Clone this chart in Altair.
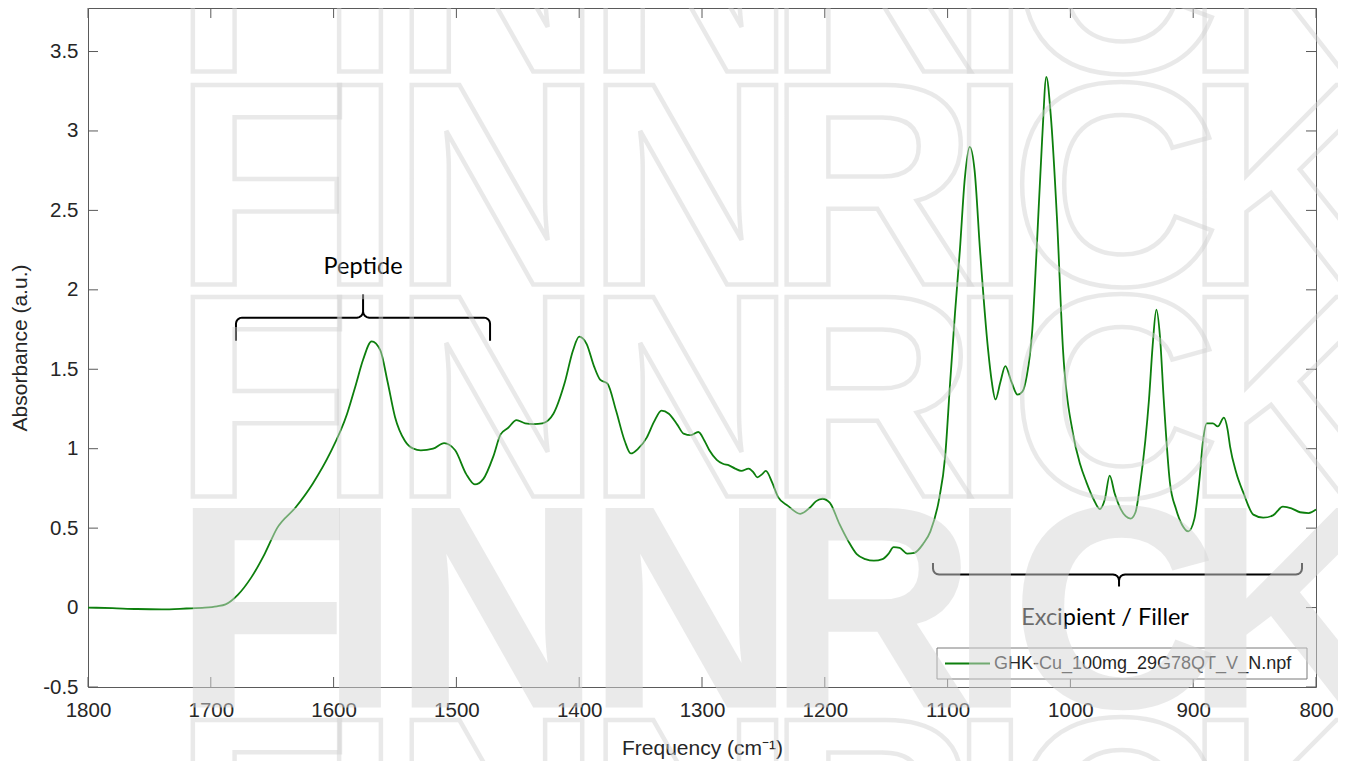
import math
import altair as alt
import pandas as pd

# ---------------- data ----------------
freq = [1800, 1780, 1760, 1740, 1720, 1705, 1695, 1688, 1678, 1667, 1656, 1646, 1631, 1617,
        1603, 1589, 1582, 1576, 1569, 1562, 1556, 1550, 1542, 1535, 1529, 1519, 1510, 1501,
        1492, 1485, 1478, 1470, 1464, 1458, 1451, 1444, 1437, 1430, 1421, 1412, 1405, 1400,
        1394, 1388, 1383, 1377, 1370, 1363, 1358, 1352, 1345, 1339, 1333, 1327, 1320, 1315,
        1309, 1303, 1298, 1294, 1288, 1283, 1278, 1273, 1268, 1262, 1258, 1255, 1251, 1248,
        1243, 1238, 1230, 1220, 1212, 1207, 1202, 1196, 1188, 1181, 1174, 1167, 1160, 1153,
        1148, 1144, 1139, 1133, 1127, 1120, 1114, 1107, 1102, 1098, 1094, 1090, 1086, 1082,
        1078, 1073.6, 1067, 1064, 1061, 1057, 1053, 1048, 1043, 1039, 1035.6, 1031, 1027.5,
        1023, 1019.6, 1016, 1011, 1006, 998, 992, 987, 981, 976, 972, 968, 964, 959, 955, 951,
        947, 943, 939, 936, 933, 930, 927, 924, 919, 914, 909, 904, 899, 895, 892, 889, 884,
        880, 875, 872, 870, 865, 859, 851, 843, 835, 827, 820, 813, 806, 800]
absorbance = [0.0, -0.004, -0.009, -0.011, -0.006, -0.001, 0.008, 0.02, 0.08, 0.19, 0.34, 0.50,
              0.63, 0.78, 0.97, 1.22, 1.40, 1.56, 1.675, 1.62, 1.42, 1.20, 1.05, 1.00, 0.99,
              1.00, 1.035, 0.99, 0.84, 0.775, 0.81, 0.95, 1.09, 1.13, 1.18, 1.16, 1.155, 1.16,
              1.22, 1.41, 1.62, 1.705, 1.66, 1.52, 1.435, 1.41, 1.24, 1.05, 0.97, 1.00, 1.07,
              1.17, 1.24, 1.22, 1.15, 1.095, 1.085, 1.105, 1.05, 0.99, 0.93, 0.905, 0.895,
              0.875, 0.86, 0.875, 0.85, 0.82, 0.84, 0.86, 0.79, 0.695, 0.64, 0.59, 0.63, 0.67,
              0.685, 0.66, 0.525, 0.42, 0.336, 0.305, 0.295, 0.305, 0.34, 0.38, 0.375, 0.34,
              0.345, 0.40, 0.48, 0.68, 0.95, 1.41, 1.85, 2.25, 2.70, 2.90, 2.75, 2.25, 1.62,
              1.42, 1.31, 1.42, 1.52, 1.42, 1.34, 1.36, 1.455, 1.75, 2.25, 2.95, 3.34, 3.10,
              2.46, 1.62, 1.10, 0.90, 0.79, 0.68, 0.62, 0.68, 0.83, 0.72, 0.62, 0.575, 0.56,
              0.60, 0.79, 1.05, 1.31, 1.65, 1.875, 1.70, 1.31, 0.79, 0.62, 0.52, 0.48, 0.56,
              0.80, 1.05, 1.16, 1.16, 1.14, 1.195, 1.12, 1.015, 0.85, 0.72, 0.585, 0.566, 0.58,
              0.635, 0.625, 0.60, 0.595, 0.617]
series_name = "GHK-Cu_100mg_29G78QT_V_N.npf"

x_ticks = [1800, 1700, 1600, 1500, 1400, 1300, 1200, 1100, 1000, 900, 800]
y_ticks = [-0.5, 0, 0.5, 1, 1.5, 2, 2.5, 3, 3.5]

brace_names = ["Peptide", "Excipient / Filler"]
brace_left = [1679.5, 1111.9]
brace_right = [1472.6, 811.4]
brace_tip_x = [1576.0, 960.4]
brace_end_y = [1.68, 0.28]
brace_bar_y = [1.825, 0.208]
brace_tip_y = [1.97, 0.132]
label_x = [1576.0, 971.8]
label_y = [2.146, -0.063]

# watermark (decoration)
wm_letters = list("FINNRICK")
wm_x = [1658.3, 1578.5, 1466.9, 1309.0, 1161.6, 1065.5, 963.7, 821.2]
wm_outline_rows = [3.374, 2.033, 0.699, -1.964]
wm_filled_rows = [-0.629]

GREEN = "#0d7f0d"
INK = "#262626"
FRAME = "#5a5a5a"
W, H = 1228, 679
WM_FONT = "Liberation Sans"

x_scale = alt.Scale(domain=[800, 1800], reverse=True, nice=False, zero=False)
y_scale = alt.Scale(domain=[-0.5, 3.774], nice=False, zero=False)

spec_df = pd.DataFrame({"freq": freq, "absorbance": absorbance, "series": series_name})


def brace_points(xl, xr, xt, ye, yb, yt, rx=4.9, ry=0.038):
    d = 1 if xr > xl else -1
    s = 1 if ye > yb else -1
    t = 1 if yt > yb else -1
    angles = [0, 22.5, 45, 67.5, 90]
    pts = [(xl, ye)]
    for a in angles:
        r = math.radians(a)
        pts.append((xl + d * rx * (1 - math.cos(r)), yb + s * ry * (1 - math.sin(r))))
    for a in angles:
        r = math.radians(a)
        pts.append((xt - d * rx + d * rx * math.sin(r), yb + t * ry * (1 - math.cos(r))))
    pts.append((xt, yt))
    for a in reversed(angles):
        r = math.radians(a)
        pts.append((xt + d * rx - d * rx * math.sin(r), yb + t * ry * (1 - math.cos(r))))
    for a in reversed(angles):
        r = math.radians(a)
        pts.append((xr - d * rx * (1 - math.cos(r)), yb + s * ry * (1 - math.sin(r))))
    pts.append((xr, ye))
    return pts


rows = []
for k, name in enumerate(brace_names):
    pts = brace_points(brace_left[k], brace_right[k], brace_tip_x[k],
                       brace_end_y[k], brace_bar_y[k], brace_tip_y[k])
    for i, (px, py) in enumerate(pts):
        rows.append({"brace": name, "i": i, "freq": px, "absorbance": py})
brace_df = pd.DataFrame(rows)
label_df = pd.DataFrame({"label": brace_names, "freq": label_x, "absorbance": label_y})

wm_rows = []
for yv in wm_outline_rows:
    for L, xv in zip(wm_letters, wm_x):
        wm_rows.append({"letter": L, "freq": xv, "absorbance": yv, "filled": 0})
for yv in wm_filled_rows:
    for L, xv in zip(wm_letters, wm_x):
        wm_rows.append({"letter": L, "freq": xv, "absorbance": yv, "filled": 1})
wm_df = pd.DataFrame(wm_rows)

xtick_df = pd.DataFrame({"freq": x_ticks})
ytick_df = pd.DataFrame({"absorbance": y_ticks})
legend_df = pd.DataFrame({"series": [series_name]})

LBL = 20.5
TTL = 21
X = alt.X("freq:Q", scale=x_scale,
          axis=alt.Axis(values=x_ticks, labelExpr="'' + datum.value", title="Frequency (cm⁻¹)",
                        ticks=False, tickSize=0, domain=False, grid=False, labelPadding=13,
                        labelFlush=False, labelOverlap=False, titleY=61, titleBaseline="middle",
                        labelFont="Liberation Sans", labelFontSize=LBL, labelColor=INK,
                        titleFont="Liberation Sans", titleFontSize=TTL, titleFontWeight="normal",
                        titleColor=INK, zindex=0))
Y = alt.Y("absorbance:Q", scale=y_scale,
          axis=alt.Axis(values=y_ticks, labelExpr="'' + datum.value", title="Absorbance (a.u.)",
                        ticks=False, tickSize=0, domain=False, grid=False, labelPadding=10,
                        labelFlush=False, labelOverlap=False, titleX=-68, titleY=H / 2,
                        titleBaseline="middle", titleAlign="center",
                        labelFont="Liberation Sans", labelFontSize=LBL, labelColor=INK,
                        titleFont="Liberation Sans", titleFontSize=TTL, titleFontWeight="normal",
                        titleColor=INK, zindex=0))

line = alt.Chart(spec_df).mark_line(strokeWidth=1.8, interpolate="monotone").encode(
    x=X, y=Y,
    color=alt.Color("series:N", scale=alt.Scale(range=[GREEN]), legend=None),
)

xt_bottom = alt.Chart(xtick_df).mark_rule(color=FRAME, strokeWidth=1).encode(
    x=alt.X("freq:Q", scale=x_scale), y=alt.value(H), y2=alt.value(H - 10))
xt_top = alt.Chart(xtick_df).mark_rule(color=FRAME, strokeWidth=1).encode(
    x=alt.X("freq:Q", scale=x_scale), y=alt.value(0), y2=alt.value(10))
yt_left = alt.Chart(ytick_df).mark_rule(color=FRAME, strokeWidth=1).encode(
    y=alt.Y("absorbance:Q", scale=y_scale), x=alt.value(0), x2=alt.value(10))
yt_right = alt.Chart(ytick_df).mark_rule(color=FRAME, strokeWidth=1).encode(
    y=alt.Y("absorbance:Q", scale=y_scale), x=alt.value(W - 10), x2=alt.value(W))

braces = alt.Chart(brace_df).mark_line(color="black", strokeWidth=2).encode(
    x=alt.X("freq:Q", scale=x_scale), y=alt.Y("absorbance:Q", scale=y_scale),
    detail="brace:N", order="i:Q")
labels = alt.Chart(label_df).mark_text(font="Lato", fontSize=23.5, color="black",
                                       baseline="middle", align="center").encode(
    x=alt.X("freq:Q", scale=x_scale), y=alt.Y("absorbance:Q", scale=y_scale), text="label:N")

# legend box (drawn as marks so that its size matches the MATLAB legend)
LEG_X0, LEG_X1, LEG_Y0, LEG_Y1 = 849, 1219, 640, 671
legend_box = alt.Chart(legend_df).mark_rect(fill="white", stroke="#7a7a7a", strokeWidth=1).encode(
    x=alt.value(LEG_X0), x2=alt.value(LEG_X1), y=alt.value(LEG_Y0), y2=alt.value(LEG_Y1))
legend_line = alt.Chart(legend_df).mark_rule(strokeWidth=2).encode(
    x=alt.value(LEG_X0 + 8), x2=alt.value(LEG_X0 + 53),
    y=alt.value((LEG_Y0 + LEG_Y1) / 2),
    color=alt.Color("series:N", scale=alt.Scale(range=[GREEN]), legend=None))
legend_text = alt.Chart(legend_df).mark_text(font="Liberation Sans", fontSize=18, color=INK,
                                             align="left", baseline="middle").encode(
    x=alt.value(LEG_X0 + 57), y=alt.value((LEG_Y0 + LEG_Y1) / 2 + 0.5), text="series:N")

wm_outline = alt.Chart(wm_df).transform_filter("datum.filled == 0").mark_text(
    font=WM_FONT, fontWeight="bold", fontSize=290, align="center",
    baseline="alphabetic", fill="white", fillOpacity=0, stroke="#cfcfcf", strokeOpacity=0.45,
    strokeWidth=4.5).encode(
    x=alt.X("freq:Q", scale=x_scale), y=alt.Y("absorbance:Q", scale=y_scale), text="letter:N")
wm_filled = alt.Chart(wm_df).transform_filter("datum.filled == 1").mark_text(
    font=WM_FONT, fontWeight="bold", fontSize=290, align="center",
    baseline="alphabetic", fill="#d6d6d6", fillOpacity=0.5).encode(
    x=alt.X("freq:Q", scale=x_scale), y=alt.Y("absorbance:Q", scale=y_scale), text="letter:N")

chart = alt.layer(xt_bottom, xt_top, yt_left, yt_right, line, braces, labels,
                  legend_box, legend_line, legend_text,
                  wm_outline, wm_filled).properties(
    width=W, height=H,
    autosize=alt.AutoSizeParams(type="none"),
    padding={"left": 80, "top": 0, "right": 22, "bottom": 74},
).configure(background="white").configure_view(stroke=FRAME, strokeWidth=1)

chart.save("out.html", embed_options={"renderer": "svg", "actions": False})
